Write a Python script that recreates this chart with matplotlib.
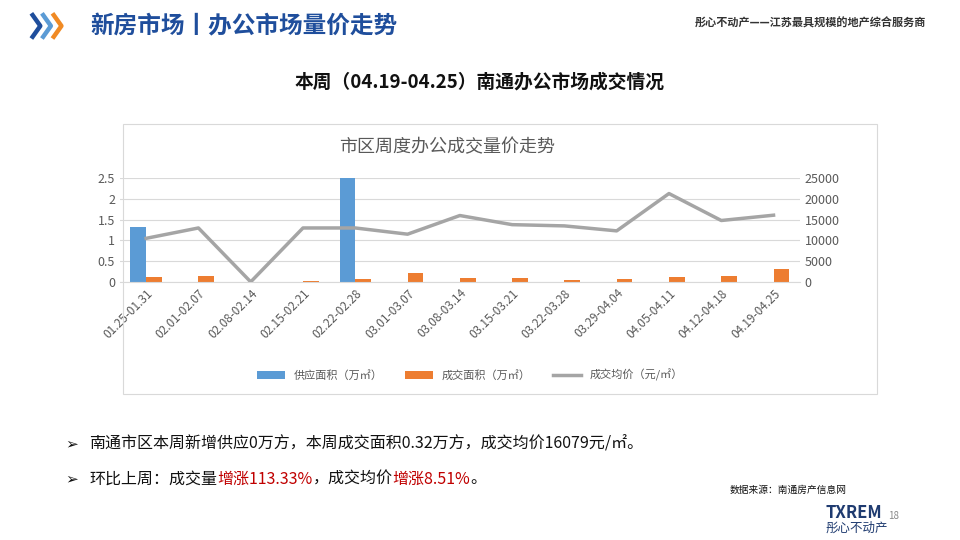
import matplotlib
matplotlib.use("Agg")
import matplotlib.pyplot as plt
from matplotlib.lines import Line2D
from matplotlib.patches import Rectangle
import numpy as np

plt.rcParams["font.family"] = "Noto Sans CJK SC"

weeks = ["01.25-01.31", "02.01-02.07", "02.08-02.14", "02.15-02.21", "02.22-02.28",
         "03.01-03.07", "03.08-03.14", "03.15-03.21", "03.22-03.28", "03.29-04.04",
         "04.05-04.11", "04.12-04.18", "04.19-04.25"]
supply = [1.33, 0, 0, 0, 2.5, 0, 0, 0, 0, 0, 0, 0, 0]
deal = [0.12, 0.14, 0, 0.03, 0.07, 0.22, 0.10, 0.10, 0.05, 0.07, 0.12, 0.15, 0.32]
price = [10500, 13000, 0, 13000, 13000, 11500, 16000, 13800, 13500, 12300, 21300, 14800, 16079]

BLUE = "#5b9bd5"
ORANGE = "#ed7d31"
GREY = "#a5a5a5"

fig = plt.figure(figsize=(9.6, 5.4), dpi=100)

# header chevrons (drawn as shapes, not text)
for i, c in enumerate(["#1f4e9c", "#5b9bd5", "#f08a24"]):
    x0 = 0.034 + i * 0.011
    fig.lines.append(Line2D([x0, x0 + 0.008, x0], [0.972, 0.952, 0.932],
                            transform=fig.transFigure, color=c, lw=3.2))
fig.text(0.094, 0.952, "新房市场丨办公市场量价走势", color="#1f4e9c", fontsize=17,
         fontweight="bold", va="center")
fig.text(0.965, 0.958, "彤心不动产——江苏最具规模的地产综合服务商", color="#333333",
         fontsize=8, fontweight="bold", ha="right", va="center")
fig.text(0.5, 0.848, "本周（04.19-04.25）南通办公市场成交情况", fontsize=13.5,
         fontweight="bold", ha="center", va="center", color="#111111")

# chart frame
fig.patches.append(Rectangle((0.128, 0.27), 0.786, 0.50, transform=fig.transFigure,
                             fill=False, edgecolor="#d9d9d9", lw=0.8))
fig.text(0.466, 0.728, "市区周度办公成交量价走势", fontsize=13, color="#595959",
         ha="center", va="center")

ax = fig.add_axes([0.125, 0.478, 0.708, 0.192])
x = np.arange(len(weeks))
w = 0.3
ax.bar(x - w / 2, supply, w, color=BLUE, label="供应面积（万㎡）")
ax.bar(x + w / 2, deal, w, color=ORANGE, label="成交面积（万㎡）")
ax.set_ylim(0, 2.5)
ax.set_yticks([0, 0.5, 1, 1.5, 2, 2.5])
ax.set_yticklabels(["0", "0.5", "1", "1.5", "2", "2.5"])
ax.set_xlim(-0.5, len(weeks) - 0.5)
ax.grid(axis="y", color="#d9d9d9", lw=0.8)
ax.set_axisbelow(True)
for s in ax.spines.values():
    s.set_visible(False)
ax.spines["bottom"].set_visible(True)
ax.spines["bottom"].set_color("#d9d9d9")
ax.tick_params(length=0, labelsize=9, colors="#595959")
ax.set_xticks(x)
ax.set_xticklabels(weeks, rotation=45, ha="right", rotation_mode="anchor", fontsize=8.5)

ax2 = ax.twinx()
ax2.plot(x, price, color=GREY, lw=2.5, label="成交均价（元/㎡）")
ax2.set_ylim(0, 25000)
ax2.set_yticks(range(0, 25001, 5000))
for s in ax2.spines.values():
    s.set_visible(False)
ax2.tick_params(length=0, labelsize=9, colors="#595959")

h1, l1 = ax.get_legend_handles_labels()
h2, l2 = ax2.get_legend_handles_labels()
fig.legend(h1 + h2, l1 + l2, loc="center", bbox_to_anchor=(0.49, 0.305), ncol=3,
           frameon=False, fontsize=8, labelcolor="#595959", handlelength=2.5)

# bullet text
fig.canvas.draw()
r = fig.canvas.get_renderer()


def line(y, parts):
    fig.text(0.068, y, "➢", fontsize=11, va="center", color="#111111", family="DejaVu Sans")
    xpos = 0.093
    for s, c in parts:
        tt = fig.text(xpos, y, s, fontsize=11.5, va="center", color=c)
        xpos = tt.get_window_extent(r).x1 / fig.bbox.width


line(0.178, [("南通市区本周新增供应0万方，本周成交面积0.32万方，成交均价16079元/㎡。", "#111111")])
line(0.113, [("环比上周：成交量", "#111111"), ("增涨113.33%", "#c00000"),
             ("，成交均价", "#111111"), ("增涨8.51%", "#c00000"), ("。", "#111111")])

fig.text(0.76, 0.092, "数据来源：南通房产信息网", fontsize=7, va="center", color="#111111")
fig.text(0.86, 0.05, "TXREM", fontsize=12, fontweight="bold", color="#1f3b70", va="center")
fig.text(0.86, 0.022, "彤心不动产", fontsize=9, color="#1f3b70", va="center")
fig.text(0.925, 0.045, "18", fontsize=7, color="#888888", va="center")

fig.savefig("out.png", dpi=100)
